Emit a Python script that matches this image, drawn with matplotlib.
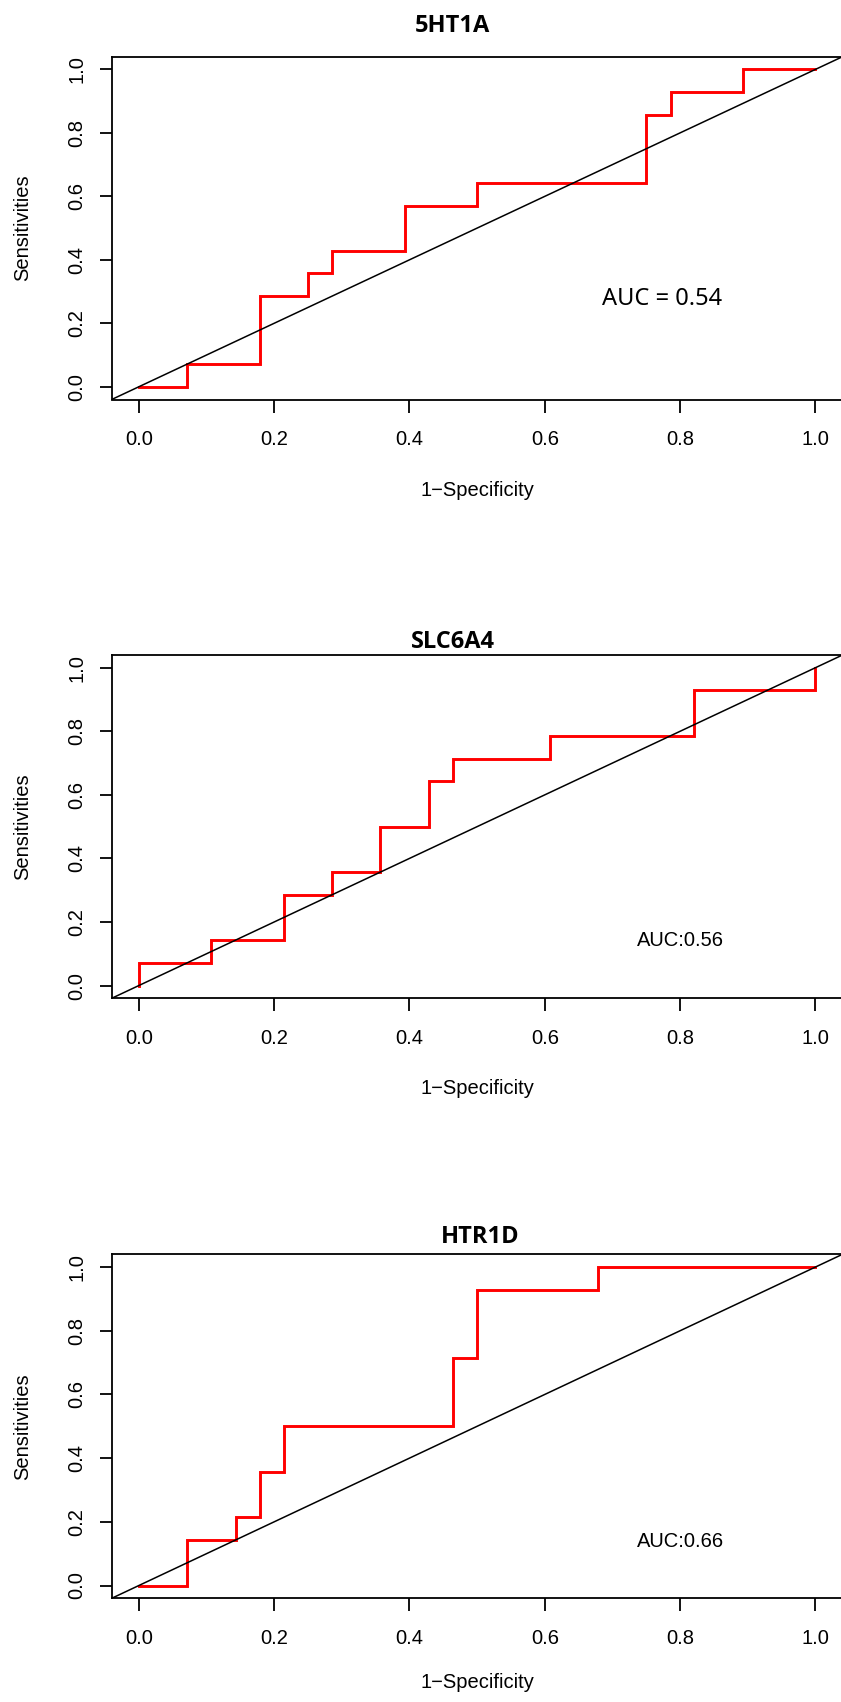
import matplotlib
matplotlib.use("Agg")
import matplotlib.pyplot as plt
from matplotlib.ticker import FormatStrFormatter

# ---- data (ROC step vertices) ----
titles = ["5HT1A", "SLC6A4", "HTR1D"]
auc_labels = ["AUC = 0.54", "AUC:0.56", "AUC:0.66"]

fpr_5ht1a = [0.0, 0.071, 0.071, 0.179, 0.179, 0.25, 0.25, 0.286, 0.286, 0.393, 0.393,
             0.5, 0.5, 0.75, 0.75, 0.786, 0.786, 0.893, 0.893, 1.0]
tpr_5ht1a = [0.0, 0.0, 0.071, 0.071, 0.286, 0.286, 0.357, 0.357, 0.429, 0.429, 0.571,
             0.571, 0.643, 0.643, 0.857, 0.857, 0.929, 0.929, 1.0, 1.0]

fpr_slc6a4 = [0.0, 0.0, 0.107, 0.107, 0.214, 0.214, 0.286, 0.286, 0.357, 0.357, 0.429,
              0.429, 0.464, 0.464, 0.607, 0.607, 0.821, 0.821, 1.0, 1.0]
tpr_slc6a4 = [0.0, 0.071, 0.071, 0.143, 0.143, 0.286, 0.286, 0.357, 0.357, 0.5, 0.5,
              0.643, 0.643, 0.714, 0.714, 0.786, 0.786, 0.929, 0.929, 1.0]

fpr_htr1d = [0.0, 0.071, 0.071, 0.143, 0.143, 0.179, 0.179, 0.214, 0.214, 0.464, 0.464,
             0.5, 0.5, 0.679, 0.679, 1.0]
tpr_htr1d = [0.0, 0.0, 0.143, 0.143, 0.214, 0.214, 0.357, 0.357, 0.5, 0.5, 0.714,
             0.714, 0.929, 0.929, 1.0, 1.0]

tick_vals = [0.0, 0.2, 0.4, 0.6, 0.8, 1.0]

series = [(fpr_5ht1a, tpr_5ht1a), (fpr_slc6a4, tpr_slc6a4), (fpr_htr1d, tpr_htr1d)]

# ---- layout (pixels) ----
W, H = 841, 1702
fig = plt.figure(figsize=(W / 100, H / 100), dpi=100)
fig.patch.set_facecolor("white")

box_left, box_right = 111.7, 842.5
boxes = [(56.7, 399.5), (655.0, 998.3), (1254.3, 1598.3)]     # (top, bottom)
title_pos = [(452, 31.7), (453, 648.3), (480, 1242.7)]        # (x center, baseline)
auc_pos = [(0.773, 0.258), (0.801, 0.123), (0.80, 0.1226)]    # data coords
xlabel_y = [490, 1088, 1682]

sans = ["Liberation Sans", "DejaVu Sans"]
noto = ["Noto Sans", "DejaVu Sans"]
bold_fam = ["Open Sans", "Lato", "DejaVu Sans"]
fs = 14.5

for i, ((top, bot), (fx, fy)) in enumerate(zip(boxes, series)):
    ax = fig.add_axes([box_left / W, 1 - bot / H,
                       (box_right - box_left) / W, (bot - top) / H])
    ax.set_xlim(-0.04, 1.04)
    ax.set_ylim(-0.04, 1.04)
    ax.plot(fx, fy, color="#ff0000", lw=2.1, solid_joinstyle="miter", zorder=2)
    ax.axline((0, 0), slope=1, color="black", lw=1.1, zorder=3)

    for sp in ax.spines.values():
        sp.set_linewidth(1.3)
        sp.set_color("black")
    ax.set_xticks(tick_vals)
    ax.set_yticks(tick_vals)
    ax.xaxis.set_major_formatter(FormatStrFormatter("%.1f"))
    ax.yaxis.set_major_formatter(FormatStrFormatter("%.1f"))
    ax.tick_params(axis="both", direction="out", length=9, width=1.3,
                   labelsize=fs, top=False, right=False)
    ax.tick_params(axis="x", pad=13)
    ax.tick_params(axis="y", pad=9.4)
    for lab in ax.get_xticklabels() + ax.get_yticklabels():
        lab.set_family(sans)
    for lab in ax.get_yticklabels():
        lab.set_rotation(90)
        lab.set_va("center")

    ax.set_xlabel("1\u2212Specificity", fontsize=fs, family=sans)
    ax.xaxis.set_label_coords(0.5, (bot - xlabel_y[i]) / (bot - top))
    ax.xaxis.label.set_va("center")
    ax.set_ylabel("Sensitivities", fontsize=fs, family=sans)
    ax.yaxis.set_label_coords((23 - box_left) / (box_right - box_left), 0.5)
    ax.yaxis.label.set_va("center")

    tx, tb = title_pos[i]
    ax.text((tx - box_left) / (box_right - box_left), (bot - tb) / (bot - top),
            titles[i], transform=ax.transAxes, ha="center", va="baseline",
            fontsize=17, fontweight="bold", family=bold_fam, clip_on=False)

    ax_x, ax_y = auc_pos[i]
    if i == 0:
        ax.text(ax_x, ax_y, auc_labels[i], ha="center", va="baseline",
                fontsize=17, family=noto)
    else:
        ax.text(ax_x, ax_y, auc_labels[i], ha="center", va="baseline",
                fontsize=fs, family=sans)

fig.savefig("out.png", dpi=100, facecolor="white")
